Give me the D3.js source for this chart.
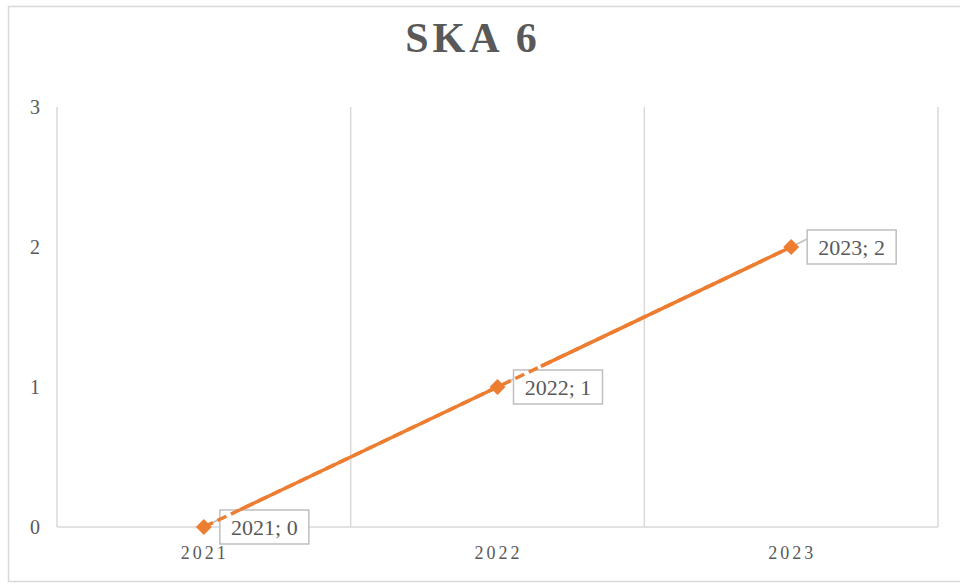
<!DOCTYPE html>
<html>
<head>
<meta charset="utf-8">
<script src="https://cdn.jsdelivr.net/npm/d3@7"></script>
<style>
  body { margin: 0; background: #fff; }
  text { font-family: "Liberation Serif", "Times New Roman", serif; }
</style>
</head>
<body>
<svg width="960" height="585"></svg>
<script>
var years = ["2021", "2022", "2023"];
var values = [0, 1, 2];
var yTicks = [0, 1, 2, 3];
var title = "SKA 6";

var svg = d3.select("svg"),
    margin = { top: 107, right: 22, bottom: 58, left: 57 },
    width = svg.attr("width") - margin.left - margin.right,
    height = svg.attr("height") - margin.top - margin.bottom;

var orange = "#ED7D31", grid = "#d9d9d9", textCol = "#595959";

// outer chart border
svg.append("rect")
    .attr("x", 8.5).attr("y", 6.5)
    .attr("width", 960).attr("height", 575)
    .attr("fill", "none")
    .attr("stroke", grid)
    .attr("stroke-width", 1.5);

svg.append("text")
    .attr("x", 473).attr("y", 52)
    .attr("text-anchor", "middle")
    .attr("font-size", 42)
    .attr("font-weight", "bold")
    .attr("letter-spacing", 4)
    .attr("fill", textCol)
    .text(title);

var xScale = d3.scaleBand().domain(years).range([0, width]),
    yScale = d3.scaleLinear().domain([0, 3]).range([height, 0]);

var g = svg.append("g")
    .attr("transform", "translate(" + margin.left + "," + margin.top + ")");

// vertical gridlines at category boundaries
var bounds = years.map(function(d) { return xScale(d); }).concat([width]);
g.selectAll(".vgrid")
    .data(bounds)
    .enter().append("line")
    .attr("class", "vgrid")
    .attr("x1", function(d) { return d; })
    .attr("x2", function(d) { return d; })
    .attr("y1", 0)
    .attr("y2", height)
    .attr("stroke", grid)
    .attr("stroke-width", 1.5);

// x axis line
g.append("line")
    .attr("x1", 0).attr("x2", width)
    .attr("y1", height).attr("y2", height)
    .attr("stroke", grid)
    .attr("stroke-width", 1.5);

// y tick labels
g.selectAll(".ytick")
    .data(yTicks)
    .enter().append("text")
    .attr("class", "ytick")
    .attr("x", -22)
    .attr("y", function(d) { return yScale(d); })
    .attr("dy", "0.35em")
    .attr("text-anchor", "middle")
    .attr("font-size", 20)
    .attr("fill", textCol)
    .text(function(d) { return d; });

// x tick labels
g.selectAll(".xtick")
    .data(years)
    .enter().append("text")
    .attr("class", "xtick")
    .attr("x", function(d) { return xScale(d) + xScale.bandwidth() / 2 + 1; })
    .attr("y", height + 32)
    .attr("text-anchor", "middle")
    .attr("font-size", 18)
    .attr("letter-spacing", 3)
    .attr("fill", textCol)
    .text(function(d) { return d; });

var pts = years.map(function(d, i) {
    return { x: xScale(d) + xScale.bandwidth() / 2, y: yScale(values[i]), year: d, v: values[i] };
});

// labels with leader lines (drawn under the series line)
pts.forEach(function(p) {
    var bx = p.x + 16, bw = 89, bh = 34;
    g.append("line")
        .attr("x1", p.x).attr("y1", p.y)
        .attr("x2", bx).attr("y2", p.y - 8)
        .attr("stroke", "#bfbfbf")
        .attr("stroke-width", 1.5);
    g.append("rect")
        .attr("x", bx).attr("y", p.y - bh / 2)
        .attr("width", bw).attr("height", bh)
        .attr("fill", "#fff")
        .attr("stroke", "#bfbfbf")
        .attr("stroke-width", 1.5);
    g.append("text")
        .attr("x", bx + bw / 2).attr("y", p.y)
        .attr("dy", "0.35em")
        .attr("text-anchor", "middle")
        .attr("font-size", 22)
        .attr("fill", textCol)
        .text(p.year + "; " + p.v);
});

var line = d3.line().x(function(d) { return d.x; }).y(function(d) { return d.y; });

// dashed series line
g.append("path")
    .attr("d", line(pts))
    .attr("fill", "none")
    .attr("stroke", orange)
    .attr("stroke-width", 3.5)
    .attr("stroke-dasharray", "10 5");

// solid overlay, leaving the dashed part visible near the start of each segment
for (var i = 0; i < pts.length - 1; i++) {
    var a = pts[i], b = pts[i + 1];
    var len = Math.hypot(b.x - a.x, b.y - a.y);
    var skip = i === 0 ? 40 : 48;
    g.append("path")
        .attr("d", line([a, b]))
        .attr("fill", "none")
        .attr("stroke", orange)
        .attr("stroke-width", 3.5)
        .attr("stroke-dasharray", "0 " + skip + " " + (len - skip) + " 0");
}

// diamond markers
g.selectAll(".marker")
    .data(pts)
    .enter().append("path")
    .attr("class", "marker")
    .attr("transform", function(d) { return "translate(" + d.x + "," + d.y + ")"; })
    .attr("d", d3.symbol().type(d3.symbolDiamond2).size(160))
    .attr("fill", orange);
</script>
</body>
</html>
